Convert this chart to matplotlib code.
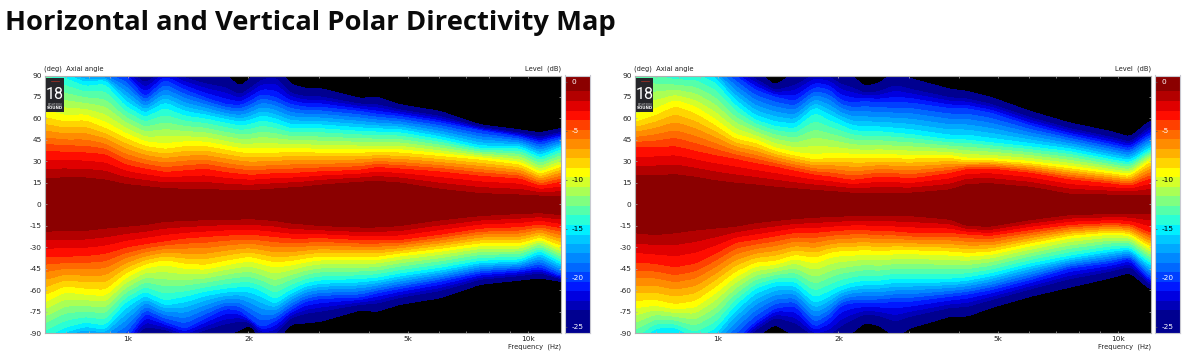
import numpy as np
import matplotlib
matplotlib.use("Agg")
import matplotlib.pyplot as plt
from matplotlib.patches import Rectangle

W, H = 1189, 362

FREQS = [620,696,781,876,983,1103,1237,1388,1558,1748,1905,2017,2161,2330,2540,2772,3020,3802,4190,4786,6026,7586,9550,10715,12100]
# iso-level angles (degrees off axis) at each frequency
ISO_DB = [-1.0, -4.0, -9.3, -15.0, -20.5, -25.65]

H_TOP_M1 = [18,18.5,18.5,17,14,12.5,11,10.5,10.4,9.8,9.5,9.7,10,10.7,11.5,12.2,13.5,15.5,16,15,10.5,7.5,6.5,5.8,5.3]
H_TOP_M4 = [37.6,37,36.5,35.3,28,25,22.6,23.8,25,22.6,21.4,20.6,21,21.8,21.8,22.4,23,24,26,25,23,20,18,12.7,15.7]
H_TOP_YEL = [63,59.6,60.7,55,48,42,40,42,42,39.5,37.5,37,37,37,38,37.5,37,37,37,37,34.5,32,28.4,21.5,27]
H_TOP_CYA = [100,90,84,86,70,62,69,63,61,58,56,57,60,58,54,54,54,52,51.5,51,46,39.5,39.5,33,39]
H_TOP_BLU = [115,100,95,92,90,74.6,87,80,74.6,70,69,72,77,75,70,68,68,65,63,61.4,57,51.5,47,43,47]
H_TOP_BLK = [130,115,108,105,100,92,100,95,92,91,82,88,95,100,84,81,81,74,75,69.6,65,55.6,52,50,53]

H_BOT_M1 = [19,18.3,18.3,16.7,15.5,14.3,12,11.5,10.8,10.4,10.4,10,10.8,11.3,13.2,14,15,16,16,15,11,8,6.5,6,7.3]
H_BOT_M4 = [37,37,36.5,35,30.6,28,26,24,23,22,21.5,21.5,22,23,24,24,23.6,25,25,25,21.3,17,16,14,16.7]
H_BOT_YEL = [66,59,61,62,50,43,40,43,44,41,39,38,40,42,41,39,37.6,37.6,37.6,35,31.8,28,28,23.7,30]
H_BOT_CYA = [95,88,84,86,70,62,69,66,62,60,59,59,62,68,61,56,54,53,52,49,45,40,39,33,41]
H_BOT_BLU = [110,100,97,98,95,76,82,87,80,73,74,80,86,82,74,68,66,65,62,59,54,48,46,43.5,50]
H_BOT_BLK = [130,115,108,108,104,93,92,97,94,92,88,84,95,98,84,83,82,74,75,70,65.5,56,53,51.5,54]

V_TOP_M1 = [20,20,20.8,19,16.5,14.8,13.6,12,10.8,9.7,9,8.5,7.8,7.8,7.8,7.8,7.8,10,14,14.5,12,7,6.5,6.5,6.5]
V_TOP_M4 = [40,40,41,37.6,34.6,32,29,26.5,23.4,20.6,19.5,18.3,17,18,19.5,19,18,21.8,24.6,25,22,17.3,14.5,12.7,18]
V_TOP_YEL = [59,64,71,66,57,47,44,38,34.7,32,33.5,33.5,33.5,33,33.5,33,33,33,31,31,29,25.6,22,20,30.7]
V_TOP_CYA = [105,98,92,93,87,70.7,60,55.6,54,66,60,57,53,52,52,51,50,46,46,44,41,37.6,32,29.6,39]
V_TOP_BLU = [120,115,108,104,100,90,80,75,72,82,80,73,71,72,71,71,71,67,67,64,55,48,42,38.8,49]
V_TOP_BLK = [135,125,118,112,106,100,94,83,92,98,96,93,90,82,85,93,88,80.5,79,75,65,56.8,51,47,59]

V_BOT_M1 = [20,21.3,20,18,16.7,15.5,13,11.5,10,9.2,8.5,8.5,7.8,7.8,8,8,8,10.4,15,15.5,10.8,7.3,6.6,6.6,6.6]
V_BOT_M4 = [41,42,44.6,42,35,27,25,22.5,20,20,19,18.5,18,18,19,19,20,20,21,22,18,14.3,13,13.6,20]
V_BOT_YEL = [70,69,72,70,60,49,42,41,36.5,39,35,34,34,33,34,33,33,34,35,34,28,22.5,20,21,30.6]
V_BOT_CYA = [100,88,87,95,89,72,60,55,55,67,62,58.6,56,54.6,54.6,53,53,53,52,49,42,36.5,32,30.6,42]
V_BOT_BLU = [120,112,110,105,105,95,82,72.6,71,86,79.6,71,69,69,69,68,68,64.5,63,60,52.8,44.6,41,37.6,52.8]
V_BOT_BLK = [135,125,120,115,110,102,93,84,92,98,100,97,90,82.6,85,93,86.6,78.4,78.4,72.6,64.5,58,51.6,47.7,60]

LEVEL_EDGES = [-25.65,-23.35,-22.4,-21.4,-20.45,-19.45,-18.5,-17.5,-16.55,-15.6,-14.6,-13.65,-12.65,-11.7,-10.7,-9.75,-8.8,-7.8,-6.85,-5.85,-4.9,-3.9,-2.95,-2.0,-1.0,0.63]
BAND_COLORS = ['#000090','#0000b8','#0000e0','#0018ff','#0040ff','#0068ff','#0088ff','#00a8ff','#00c8ff','#00f0ff',
               '#2affd5','#55ffaa','#80ff80','#aaff55','#d4ff2a','#ffff00','#ffd500','#ffb000','#ff8c00','#ff6a00',
               '#ff4000','#ff0d00','#e00000','#b30000','#8b0000']
DB_TICKS = [0,-5,-10,-15,-20,-25]
DB_TICK_COLORS = ['white','white','black','black','white','white']
ANGLE_TICKS = list(range(-90,91,15))
FREQ_MAJOR = [1000,2000,5000,10000]
FREQ_LABELS = ['1k','2k','5k','10k']
FREQ_MINOR = [700,800,900,3000,4000,6000,7000,8000,9000]
XLIM = (618.4, 12090)
TITLE = "Horizontal and Vertical Polar Directivity Map"

def field(top, bot):
    fgrid = np.geomspace(XLIM[0], XLIM[1], 700)
    lf = np.log10(FREQS)
    ang = np.linspace(-90, 90, 541)
    kernel = np.ones(13) / 13.0
    def side(rows):
        out = []
        for r in rows:
            v = np.interp(np.log10(fgrid), lf, r)
            v = np.convolve(np.pad(v, 6, mode='edge'), kernel, mode='valid')
            out.append(v)
        return np.array(out)
    T, B = side(top), side(bot)
    Z = np.zeros((ang.size, fgrid.size))
    db = np.array([0.0] + ISO_DB + [-45.0])
    for j in range(fgrid.size):
        at = np.r_[0, T[:, j], T[-1, j] + 25]
        ab = np.r_[0, B[:, j], B[-1, j] + 25]
        up = ang >= 0
        Z[up, j] = np.interp(ang[up], at, db)
        Z[~up, j] = np.interp(-ang[~up], ab, db)
    return fgrid, ang, Z

plt.rcParams['font.family'] = 'DejaVu Sans'
fig = plt.figure(figsize=(W/100, H/100), dpi=100, facecolor='white')

def ax_px(l, t, r, b):
    return fig.add_axes([l/W, 1-b/H, (r-l)/W, (b-t)/H])

GREY = '#b0b0b0'
TXT = '#222222'
FS = 4.9
TICK_FS = 5.3

def panel(left, top_rows, bot_rows):
    right = left + 516.5
    ax = ax_px(left, 75.5, right, 333)
    f, a, Z = field(top_rows, bot_rows)
    levels = [-60.0] + LEVEL_EDGES
    ax.contourf(f, a, Z, levels=levels, colors=['black'] + BAND_COLORS, antialiased=False)
    ax.set_xscale('log')
    ax.set_xlim(*XLIM)
    ax.set_ylim(-90, 90)
    ax.set_yticks(ANGLE_TICKS)
    ax.set_yticklabels([str(v) for v in ANGLE_TICKS], fontsize=TICK_FS, color=TXT)
    ax.set_xticks(FREQ_MAJOR)
    ax.set_xticklabels(FREQ_LABELS, fontsize=TICK_FS, color=TXT)
    ax.set_xticks(FREQ_MINOR, minor=True)
    ax.set_xticklabels([''] * len(FREQ_MINOR), minor=True)
    ax.tick_params(axis='both', which='both', direction='in', length=1.5, width=0.5, color=GREY,
                   top=True, right=True, pad=2)
    for s in ax.spines.values():
        s.set_color(GREY)
        s.set_linewidth(0.8)
    ax.text(0, 1.014, '(deg)  Axial angle', transform=ax.transAxes, fontsize=FS, color=TXT, ha='left', va='bottom')
    ax.text(1, 1.014, 'Level  (dB)', transform=ax.transAxes, fontsize=FS, color=TXT, ha='right', va='bottom')
    ax.text(1, -0.042, 'Frequency  (Hz)', transform=ax.transAxes, fontsize=FS, color=TXT, ha='right', va='top')
    # logo
    lg = ax_px(left + 1.8, 78, left + 19, 111.5)
    lg.set_xlim(0, 1); lg.set_ylim(0, 1); lg.axis('off')
    lg.add_patch(Rectangle((0, 0), 1, 1, color='#26262a', transform=lg.transAxes))
    lg.plot([0.25, 0.75], [0.9, 0.9], color='#b03020', lw=0.5)
    lg.text(0.5, 0.52, '18', color='white', fontsize=11.5, ha='center', va='center', family='Roboto')
    lg.text(0.5, 0.09, 'SOUND', color='white', fontsize=2.9, ha='center', va='center', weight='bold')
    lg.text(0.5, 0.2, 'EIGHTEEN', color='#cccccc', fontsize=2.1, ha='center', va='center')
    # colour bar
    cb = ax_px(left + 520.5, 75.5, left + 545.5, 333)
    xb = [0, 1]
    for i, c in enumerate(BAND_COLORS):
        cb.fill_between(xb, LEVEL_EDGES[i], LEVEL_EDGES[i+1], color=c, lw=0)
    cb.set_xlim(0, 1); cb.set_ylim(LEVEL_EDGES[0], LEVEL_EDGES[-1])
    cb.set_xticks([]); cb.set_yticks(DB_TICKS); cb.set_yticklabels([])
    cb.tick_params(axis='y', direction='in', length=1.5, width=0.5, color='#555555')
    for v, c in zip(DB_TICKS, DB_TICK_COLORS):
        cb.text(0.26, v, str(v), color=c, fontsize=TICK_FS, ha='left', va='center')
    for s in cb.spines.values():
        s.set_color('#c8c8d0'); s.set_linewidth(0.8)

panel(44.5, [H_TOP_M1,H_TOP_M4,H_TOP_YEL,H_TOP_CYA,H_TOP_BLU,H_TOP_BLK],
            [H_BOT_M1,H_BOT_M4,H_BOT_YEL,H_BOT_CYA,H_BOT_BLU,H_BOT_BLK])
panel(634.5, [V_TOP_M1,V_TOP_M4,V_TOP_YEL,V_TOP_CYA,V_TOP_BLU,V_TOP_BLK],
             [V_BOT_M1,V_BOT_M4,V_BOT_YEL,V_BOT_CYA,V_BOT_BLU,V_BOT_BLK])

fig.text(5/W, 1-23/H, TITLE, fontsize=19.7, fontweight=700, family='Open Sans', color='#0a0a0a', ha='left', va='center')
fig.savefig('out.png', dpi=100)
